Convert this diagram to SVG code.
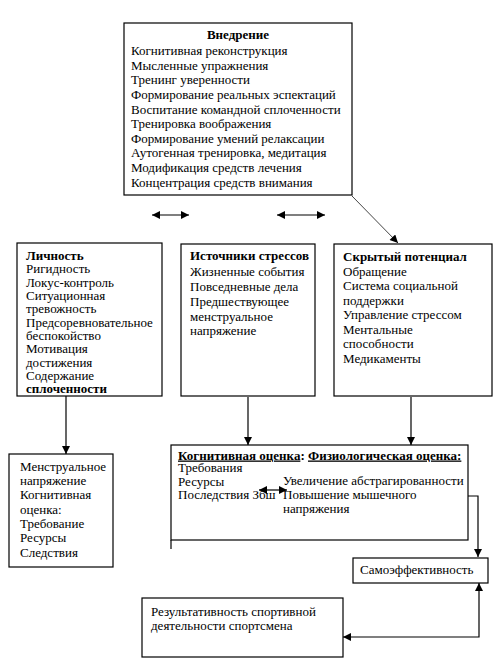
<svg xmlns="http://www.w3.org/2000/svg" width="498" height="667" viewBox="0 0 498 667">
<style>
text{font-family:"Liberation Serif","Times New Roman",serif;font-size:13px;fill:#000}
.b{font-weight:bold}
.u{text-decoration:underline}
.box{fill:#fff;stroke:#000;stroke-width:1.2}
.c{fill:none;stroke:#000;stroke-width:1.2}
.g{fill:none;stroke:#444;stroke-width:1}
</style>
<defs>
<marker id="ah" viewBox="0 0 10 10" refX="10" refY="5" markerWidth="9" markerHeight="8" markerUnits="userSpaceOnUse" orient="auto-start-reverse">
<path d="M0,0 L10,5 L0,10 z" fill="#000"/>
</marker>
</defs>
<rect width="498" height="667" fill="#fff"/>
<g id="connectors">
<line class="g" x1="352" y1="196" x2="398" y2="243" marker-end="url(#ah)"/>
<line class="c" x1="152" y1="215" x2="189" y2="215" marker-start="url(#ah)" marker-end="url(#ah)"/>
<line class="c" x1="277" y1="215" x2="325" y2="215" marker-start="url(#ah)" marker-end="url(#ah)"/>
<line class="c" x1="66" y1="396" x2="66" y2="454" marker-end="url(#ah)"/>
<line class="c" x1="248" y1="397" x2="248" y2="445" marker-end="url(#ah)"/>
<line class="c" x1="411" y1="397" x2="411" y2="445" marker-end="url(#ah)"/>
<polyline class="c" points="468,496 478,496 478,557" marker-end="url(#ah)"/>
<polyline class="c" points="479,583 479,637 343,637" marker-start="url(#ah)" marker-end="url(#ah)"/>
</g>
<g id="vnedrenie">
<rect class="box" x="124" y="23" width="228" height="172"/>
<text class="b" x="238" y="39" text-anchor="middle">Внедрение</text>
<text x="131" y="55">Когнитивная реконструкция</text>
<text x="131" y="69.6">Мысленные упражнения</text>
<text x="131" y="84.3">Тренинг уверенности</text>
<text x="131" y="98.9">Формирование реальных эспектаций</text>
<text x="131" y="113.5">Воспитание командной сплоченности</text>
<text x="131" y="128.2">Тренировка воображения</text>
<text x="131" y="142.8">Формирование умений релаксации</text>
<text x="131" y="157.4">Аутогенная тренировка, медитация</text>
<text x="131" y="172">Модификация средств лечения</text>
<text x="131" y="186.7">Концентрация средств внимания</text>
</g>
<g id="lichnost">
<rect class="box" x="17" y="243" width="145" height="153"/>
<text class="b" x="26" y="260">Личность</text>
<text x="26" y="273.3">Ригидность</text>
<text x="26" y="286.7">Локус-контроль</text>
<text x="26" y="300">Ситуационная</text>
<text x="26" y="313.3">тревожность</text>
<text x="26" y="326.7">Предсоревновательное</text>
<text x="26" y="340">беспокойство</text>
<text x="26" y="353.3">Мотивация</text>
<text x="26" y="366.7">достижения</text>
<text x="26" y="380">Содержание</text>
<text class="b" x="26" y="393.3">сплоченности</text>
</g>
<g id="istochniki">
<rect class="box" x="181" y="244" width="134" height="152"/>
<text class="b" x="190" y="260">Источники стрессов</text>
<text x="190" y="276">Жизненные события</text>
<text x="190" y="291">Повседневные дела</text>
<text x="190" y="306">Предшествующее</text>
<text x="190" y="320.5">менструальное</text>
<text x="190" y="335">напряжение</text>
</g>
<g id="skrytyi">
<rect class="box" x="334" y="244" width="158" height="152"/>
<text class="b" x="343" y="261">Скрытый потенциал</text>
<text x="343" y="275.5">Обращение</text>
<text x="343" y="290">Система социальной</text>
<text x="343" y="304.5">поддержки</text>
<text x="343" y="319">Управление стрессом</text>
<text x="343" y="333.5">Ментальные</text>
<text x="343" y="348">способности</text>
<text x="343" y="362.5">Медикаменты</text>
</g>
<g id="menstr">
<rect class="box" x="9" y="454" width="104" height="113"/>
<text x="20" y="470.7">Менструальное</text>
<text x="20" y="485">напряжение</text>
<text x="20" y="499.3">Когнитивная</text>
<text x="20" y="513.6">оценка:</text>
<text x="20" y="527.9">Требование</text>
<text x="20" y="542.2">Ресурсы</text>
<text x="20" y="556.5">Следствия</text>
</g>
<g id="ocenka">
<rect class="box" x="171" y="445" width="297" height="95"/>
<line class="c" x1="171" y1="540" x2="171" y2="549"/>
<text x="178" y="459.5"><tspan class="b u">Когнитивная оценка</tspan><tspan class="b">: </tspan><tspan class="b u">Физиологическая оценка:</tspan></text>
<text x="178" y="472">Требования</text>
<text x="178" y="486">Ресурсы</text>
<text x="178" y="498.5">Последствия Збш</text>
<text x="283" y="485">Увеличение абстрагированности</text>
<text x="283" y="498.5">Повышение мышечного</text>
<text x="283" y="513">напряжения</text>
<line class="c" x1="259" y1="490" x2="287" y2="490" marker-start="url(#ah)" marker-end="url(#ah)"/>
</g>
<g id="samoeff">
<rect class="box" x="353" y="558" width="135" height="25"/>
<text x="360" y="573.5">Самоэффективность</text>
</g>
<g id="rezult">
<rect class="box" x="142" y="598" width="201" height="59"/>
<text x="151" y="616">Результативность спортивной</text>
<text x="151" y="629.5">деятельности спортсмена</text>
</g>
</svg>
